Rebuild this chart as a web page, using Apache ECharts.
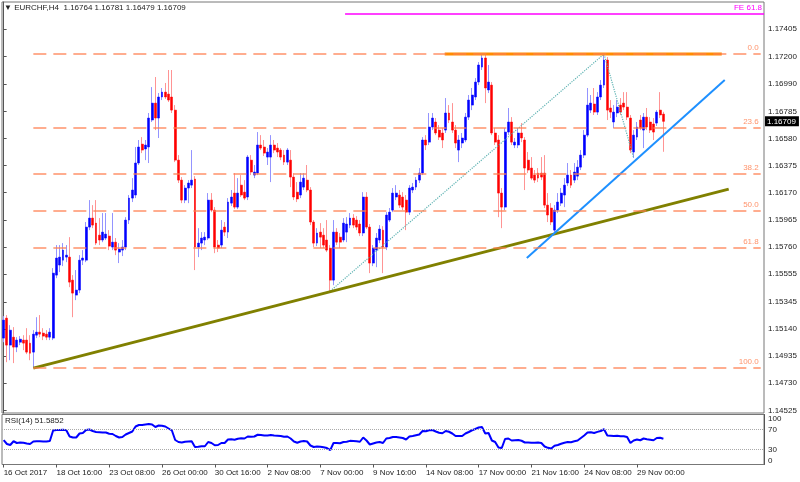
<!DOCTYPE html>
<html><head><meta charset="utf-8">
<script src="https://cdn.jsdelivr.net/npm/echarts@6/dist/echarts.min.js"></script>
<style>html,body{margin:0;padding:0;background:#fff}#c{width:800px;height:482px}</style>
</head><body><div id="c"></div>
<script>
const titleText = '\u25BC EURCHF,H4  1.16764 1.16781 1.16479 1.16709';
const rsiTitle = 'RSI(14) 51.5852';
const tickLabels = ['16 Oct 2017','18 Oct 16:00','23 Oct 08:00','26 Oct 00:00','30 Oct 16:00','2 Nov 08:00','7 Nov 00:00','9 Nov 16:00','14 Nov 08:00','17 Nov 00:00','21 Nov 16:00','24 Nov 08:00','29 Nov 00:00'];
const barsPerLabel = 16;
const totalSlots = 231;
const priceTicks = [1.17405,1.17200,1.16990,1.16785,1.16580,1.16375,1.16170,1.15965,1.15760,1.15555,1.15345,1.15140,1.14935,1.14730,1.14525];
const priceMin = 1.14505, priceMax = 1.17611;
const rsiTicks = [0,30,70,100];
const rsiLevels = [30,70];
const lastPrice = 1.16709;
// [open, close, low, high]
const ohlc = [
[1.15071,1.15207,1.15040,1.15237],[1.15222,1.15018,1.14889,1.15245],[1.15018,1.15131,1.14904,1.15169],[1.15078,1.15003,1.14882,1.15154],
[1.15003,1.15056,1.14965,1.15078],[1.15040,1.15063,1.15018,1.15086],[1.15056,1.15033,1.14980,1.15093],[1.15056,1.14965,1.14950,1.15146],
[1.15033,1.14957,1.14904,1.15093],[1.14965,1.15101,1.14844,1.15131],[1.15093,1.15116,1.15071,1.15229],[1.15116,1.15101,1.15078,1.15245],
[1.15109,1.15086,1.15056,1.15146],[1.15101,1.15078,1.15056,1.15131],[1.15078,1.15116,1.15056,1.15146],[1.15071,1.15562,1.15056,1.15600],
[1.15547,1.15676,1.15524,1.15774],[1.15623,1.15683,1.15570,1.15774],[1.15660,1.15736,1.15615,1.15789],[1.15683,1.15698,1.15645,1.15774],
[1.15683,1.15494,1.15456,1.15834],[1.15509,1.15411,1.15229,1.15547],[1.15396,1.15434,1.15358,1.15585],[1.15434,1.15660,1.15411,1.15698],
[1.15660,1.15676,1.15623,1.15736],[1.15660,1.15910,1.15645,1.15948],[1.15910,1.15978,1.15887,1.16114],[1.15978,1.15925,1.15902,1.16076],
[1.15940,1.15789,1.15774,1.16114],[1.15849,1.15812,1.15774,1.15978],[1.15812,1.15872,1.15796,1.16016],[1.15827,1.15857,1.15812,1.16016],
[1.15842,1.15766,1.15736,1.15887],[1.15759,1.15796,1.15736,1.16016],[1.15796,1.15736,1.15698,1.15827],[1.15721,1.15744,1.15638,1.15789],
[1.15736,1.15759,1.15691,1.15812],[1.15759,1.15963,1.15736,1.15985],[1.15963,1.16129,1.15933,1.16152],[1.16129,1.16190,1.16099,1.16280],
[1.16152,1.16394,1.16129,1.16515],[1.16394,1.16515,1.16379,1.16568],[1.16537,1.16492,1.16469,1.16590],[1.16500,1.16530,1.16416,1.16568],
[1.16515,1.16734,1.16394,1.16772],[1.16719,1.16847,1.16704,1.16968],[1.16847,1.16734,1.16643,1.17044],[1.16734,1.16893,1.16583,1.16923],
[1.16893,1.16930,1.16870,1.16961],[1.16930,1.16893,1.16878,1.16999],[1.16915,1.16870,1.16855,1.17097],[1.16893,1.16794,1.16772,1.17097],
[1.16794,1.16416,1.16401,1.16832],[1.16416,1.16265,1.16243,1.16454],[1.16265,1.16114,1.16091,1.16288],[1.16114,1.16205,1.16091,1.16227],
[1.16205,1.16243,1.16091,1.16265],[1.16227,1.16265,1.16205,1.16492],[1.16273,1.15759,1.15585,1.16295],[1.15759,1.15789,1.15683,1.15902],
[1.15789,1.15827,1.15736,1.15872],[1.15812,1.15834,1.15774,1.15872],[1.15827,1.16114,1.15812,1.16167],[1.16114,1.16038,1.16023,1.16167],
[1.16038,1.15759,1.15713,1.16061],[1.15774,1.15751,1.15721,1.15812],[1.15774,1.15887,1.15751,1.15963],[1.15910,1.15872,1.15842,1.15948],
[1.15872,1.16099,1.15827,1.16129],[1.16091,1.16137,1.16069,1.16190],[1.16167,1.16061,1.16046,1.16318],[1.16061,1.16167,1.16046,1.16280],
[1.16227,1.16152,1.16137,1.16303],[1.16174,1.16129,1.16114,1.16265],[1.16137,1.16439,1.16114,1.16454],[1.16416,1.16326,1.16303,1.16454],
[1.16303,1.16326,1.16280,1.16379],[1.16318,1.16530,1.16303,1.16628],[1.16530,1.16507,1.16492,1.16605],[1.16515,1.16469,1.16447,1.16568],
[1.16439,1.16477,1.16379,1.16507],[1.16439,1.16530,1.16250,1.16605],[1.16530,1.16492,1.16469,1.16568],[1.16507,1.16477,1.16439,1.16545],
[1.16492,1.16439,1.16416,1.16507],[1.16454,1.16401,1.16379,1.16492],[1.16401,1.16492,1.16379,1.16507],[1.16416,1.16288,1.16212,1.16492],
[1.16288,1.16137,1.16114,1.16318],[1.16174,1.16122,1.16099,1.16250],[1.16152,1.16250,1.16129,1.16318],[1.16212,1.16280,1.16190,1.16318],
[1.16265,1.16190,1.16174,1.16379],[1.16190,1.15948,1.15925,1.16212],[1.15948,1.15789,1.15759,1.15963],[1.15789,1.15865,1.15766,1.15902],
[1.15872,1.15834,1.15751,1.15940],[1.15849,1.15774,1.15751,1.15902],[1.15812,1.15736,1.15721,1.15963],[1.15751,1.15509,1.15426,1.15774],
[1.15509,1.15872,1.15471,1.15963],[1.15872,1.15796,1.15774,1.15902],[1.15834,1.15796,1.15751,1.15865],[1.15812,1.15940,1.15796,1.15978],
[1.15872,1.15933,1.15796,1.15985],[1.15925,1.15978,1.15902,1.16016],[1.15978,1.15925,1.15902,1.16008],[1.15963,1.15910,1.15887,1.15993],
[1.15933,1.15865,1.15842,1.15963],[1.15865,1.16137,1.15842,1.16174],[1.16137,1.15910,1.15895,1.16174],[1.15910,1.15638,1.15562,1.15933],
[1.15638,1.15751,1.15615,1.15774],[1.15736,1.15827,1.15607,1.15865],[1.15812,1.15895,1.15789,1.15925],[1.15887,1.15759,1.15562,1.15917],
[1.15759,1.16001,1.15736,1.16023],[1.15963,1.16023,1.15948,1.16054],[1.16038,1.16167,1.16023,1.16205],[1.16137,1.16167,1.16114,1.16227],
[1.16152,1.16076,1.16054,1.16190],[1.16137,1.16061,1.16038,1.16174],[1.16114,1.16023,1.15887,1.16152],[1.16023,1.16205,1.16001,1.16227],
[1.16190,1.16212,1.16167,1.16243],[1.16212,1.16265,1.16190,1.16288],[1.16265,1.16318,1.16243,1.16356],[1.16318,1.16568,1.16303,1.16590],
[1.16568,1.16530,1.16492,1.16605],[1.16552,1.16666,1.16530,1.16772],[1.16666,1.16734,1.16643,1.16772],[1.16704,1.16621,1.16605,1.16734],
[1.16643,1.16590,1.16568,1.16681],[1.16621,1.16568,1.16507,1.16658],[1.16643,1.16772,1.16621,1.16885],[1.16772,1.16719,1.16696,1.16832],
[1.16704,1.16643,1.16621,1.16847],[1.16643,1.16545,1.16507,1.16681],[1.16492,1.16568,1.16401,1.16605],[1.16545,1.16583,1.16507,1.16621],
[1.16568,1.16741,1.16552,1.16772],[1.16741,1.16870,1.16719,1.16908],[1.16832,1.16908,1.16794,1.16961],[1.16893,1.17006,1.16870,1.17036],
[1.17006,1.17135,1.16983,1.17157],[1.17119,1.17188,1.17097,1.17218],[1.17188,1.16961,1.16847,1.17210],[1.16946,1.17006,1.16923,1.17135],
[1.16983,1.16621,1.16605,1.17006],[1.16621,1.16552,1.16530,1.16658],[1.16568,1.16167,1.15985,1.16605],[1.16167,1.16061,1.15902,1.16205],
[1.16061,1.16628,1.16038,1.16658],[1.16628,1.16704,1.16605,1.16810],[1.16704,1.16552,1.16530,1.16741],[1.16530,1.16552,1.16507,1.16583],
[1.16530,1.16621,1.16507,1.16658],[1.16621,1.16583,1.16552,1.16696],[1.16568,1.16356,1.16190,1.16590],[1.16416,1.16341,1.16318,1.16477],
[1.16356,1.16280,1.16265,1.16439],[1.16303,1.16265,1.16243,1.16341],[1.16318,1.16280,1.16250,1.16356],[1.16318,1.16288,1.16265,1.16439],
[1.16318,1.16076,1.16054,1.16454],[1.16076,1.16001,1.15948,1.16167],[1.16054,1.15948,1.15925,1.16091],[1.15887,1.16038,1.15865,1.16076],
[1.16038,1.16099,1.16016,1.16167],[1.16091,1.16167,1.16069,1.16205],[1.16152,1.16227,1.16061,1.16280],[1.16243,1.16303,1.16220,1.16394],
[1.16303,1.16227,1.16205,1.16341],[1.16265,1.16326,1.16243,1.16394],[1.16295,1.16363,1.16265,1.16416],[1.16363,1.16454,1.16341,1.16492],
[1.16454,1.16605,1.16432,1.16643],[1.16605,1.16832,1.16590,1.16961],[1.16794,1.16847,1.16772,1.16908],[1.16840,1.16779,1.16757,1.16961],
[1.16779,1.16893,1.16757,1.16930],[1.16893,1.16983,1.16870,1.17021],[1.16983,1.17172,1.16961,1.17218],[1.17172,1.16794,1.16719,1.17195],
[1.16810,1.16779,1.16734,1.16870],[1.16704,1.16779,1.16658,1.16832],[1.16772,1.16817,1.16741,1.16870],[1.16832,1.16779,1.16757,1.16885],
[1.16847,1.16817,1.16794,1.16930],[1.16817,1.16741,1.16719,1.16930],[1.16734,1.16492,1.16469,1.16757],[1.16477,1.16605,1.16432,1.16643],
[1.16590,1.16666,1.16568,1.16704],[1.16719,1.16658,1.16643,1.16757],[1.16643,1.16741,1.16507,1.16772],[1.16741,1.16666,1.16643,1.16810],
[1.16704,1.16643,1.16621,1.16741],[1.16689,1.16628,1.16568,1.16734],[1.16696,1.16779,1.16674,1.16794],[1.16794,1.16757,1.16734,1.16930],
[1.16764,1.16709,1.16479,1.16781]
];
const rsi = [
48.7,41,39,46.5,43,44,43.5,42,41,46,46.5,46.5,46,46,47,68,69,69,69.5,68.5,
56,54,54,62,63,69,70,67,65,64.5,64,64,61.5,61,57,54,55,60,63,66,
76,79,79,80,81,80,75,78,77.5,76,72,68,49,45,44,45.5,46,46.5,35,35.5,
36.5,36.5,45,43,38.5,39,43,43,50,50.5,49.5,51.5,52.5,52,56,55.5,56,59.5,59,58,
58,59,58,57.5,57,55.5,56,52,46,43.5,46,47,46,38,35,36,35.5,34.5,33,28.7,
43,43,42.5,45,45.5,47.3,47,46.5,45.5,54,48,40,42,44,45,43,52,53,55,55,
54,53,50,56,57,58.5,60,67,66.5,68.5,69,66,63.5,62.5,67,65.5,62,57,57,57,
62,65,68.5,71,74,75,62,63,48,45,34,33,51,52,48,48.5,49,47.5,44,44,
43.5,43.5,44,43,36,33.3,32,37.5,39,41.5,43.5,45,44.5,46.5,48,53,58,64,64.5,63,
65.3,67,70.5,58,57.5,57,57.5,56.5,56.5,55,43,48,50,48.5,52,50.5,49.5,48.5,53,53.5,
51.5852
];
// Fibonacci retracement levels (price) and names
const fiboLevels = [1.17222,1.16662,1.16315,1.16035,1.15754,1.14847];
const fiboNames = ['0.0','23.6','38.2','50.0','61.8','100.0'];
const fiboSpan = [9, 229.5];           // bar index span
const feLevel = 1.17525, feSpan = [103.5, 230.5], feName = 'FE 61.8';
const resistance = [[133.7,1.17218],[217.7,1.17218]];
const oliveLine = [[9,1.14844],[219.8,1.16197]];
const blueLine = [[158.6,1.15676],[218.6,1.17021]];
const feLegs = [[99,1.15426],[182,1.17218],[191,1.16432]];

const FONT = 'Liberation Sans, Arial, sans-serif';
const chart = echarts.init(document.getElementById('c'));
const cats = Array.from({length: totalSlots}, (_, i) => String(i));
const bodies = ohlc.map(([o, c]) => [o, c, Math.min(o, c), Math.max(o, c)]);
const isTick = i => i % barsPerLabel === 0 && i / barsPerLabel < tickLabels.length;
const lab = {fontFamily: FONT, fontSize: 8, color: '#222'};

chart.setOption({
  animation: false,
  backgroundColor: '#fff',
  graphic: [
    {type: 'text', left: 4, top: 4, style: {text: titleText, font: '8px ' + FONT, fill: '#222'}},
    {type: 'text', left: 5, top: 417, style: {text: rsiTitle, font: '8px ' + FONT, fill: '#222'}}
  ],
  grid: [
    {left: 2, right: 36, top: 2, height: 411, show: true, borderColor: '#777', borderWidth: 1},
    {left: 2, right: 36, top: 414.5, height: 50, show: true, borderColor: '#777', borderWidth: 1}
  ],
  xAxis: [
    {type: 'category', gridIndex: 0, data: cats, boundaryGap: true, axisLine: {show: false}, axisTick: {show: false}, axisLabel: {show: false}, splitLine: {show: false}},
    {type: 'category', gridIndex: 1, data: cats, boundaryGap: true, axisLine: {show: false},
      axisTick: {show: true, interval: (i) => isTick(i), alignWithLabel: true, length: 3, lineStyle: {color: '#555'}},
      axisLabel: Object.assign({show: true, interval: (i) => isTick(i), formatter: (v, i) => tickLabels[Math.round(i / barsPerLabel)] || '', align: 'left', margin: 4}, lab),
      splitLine: {show: false}},
    {type: 'value', gridIndex: 0, min: -0.5, max: totalSlots - 0.5, show: false}
  ],
  yAxis: [
    {type: 'value', gridIndex: 0, position: 'right', min: priceMin, max: priceMax,
      axisLine: {show: true, lineStyle: {color: '#555'}},
      axisTick: {show: true, length: 3, customValues: priceTicks, lineStyle: {color: '#555'}},
      axisLabel: Object.assign({customValues: priceTicks, formatter: v => v.toFixed(5), margin: 4}, lab),
      splitLine: {show: false}},
    {type: 'value', gridIndex: 1, position: 'right', min: 0, max: 100,
      axisLine: {show: true, lineStyle: {color: '#555'}},
      axisTick: {show: false},
      axisLabel: Object.assign({customValues: rsiTicks, margin: 4, verticalAlignMinLabel: 'bottom', verticalAlignMaxLabel: 'top'}, lab),
      splitLine: {show: false}}
  ],
  series: [
    {type: 'line', xAxisIndex: 2, yAxisIndex: 0, data: [[fiboSpan[0], fiboLevels[0]], [fiboSpan[1], fiboLevels[0]]], symbol: 'none', silent: true, z: 1,
      lineStyle: {opacity: 0},
      markLine: {symbol: ['none', 'none'], silent: true,
        lineStyle: {color: '#ff7f50', width: 1.6, type: [13, 7], opacity: 0.85},
        label: {show: true, position: 'insideEndTop', formatter: '{b}', color: '#ff7f50', fontSize: 8, fontFamily: FONT, distance: 2},
        data: fiboLevels.map((lv, k) => [{name: fiboNames[k], coord: [fiboSpan[0], lv]}, {coord: [fiboSpan[1], lv]}]).concat([
          [{name: feName, coord: [feSpan[0], feLevel], lineStyle: {color: '#ff00ff', width: 1.5, type: 'solid', opacity: 1}, label: {color: '#ff00ff'}}, {coord: [feSpan[1], feLevel]}]
        ])}},
    {type: 'candlestick', xAxisIndex: 0, yAxisIndex: 0, data: ohlc, barWidth: 1, silent: true, z: 2,
      itemStyle: {color: '#9494ff', color0: '#ff9494', borderColor: '#9494ff', borderColor0: '#ff9494', borderWidth: 1}},
    {type: 'candlestick', xAxisIndex: 0, yAxisIndex: 0, data: bodies, barWidth: 2.4, silent: true, z: 3, clip: false,
      itemStyle: {color: '#0000ff', color0: '#ff0000', borderColor: '#0000ff', borderColor0: '#ff0000', borderWidth: 0.5}},
    {type: 'line', xAxisIndex: 2, yAxisIndex: 0, data: [[totalSlots - 1, lastPrice], [totalSlots - 0.5, lastPrice]], symbol: 'none', silent: true, z: 6, clip: false,
      lineStyle: {color: 'transparent', width: 0},
      endLabel: {show: true, formatter: lastPrice.toFixed(5), backgroundColor: '#000', color: '#fff', padding: [1, 3, 1, 2], distance: 1, fontSize: 8, fontFamily: FONT}},
    {type: 'line', xAxisIndex: 2, yAxisIndex: 0, data: feLegs, symbol: 'none', silent: true, z: 4,
      lineStyle: {color: '#5fb3b3', width: 1.2, type: 'dotted'}},
    {type: 'line', xAxisIndex: 2, yAxisIndex: 0, data: resistance, symbol: 'none', silent: true, z: 4,
      lineStyle: {color: '#ff8c00', width: 3}},
    {type: 'line', xAxisIndex: 2, yAxisIndex: 0, data: oliveLine, symbol: 'none', silent: true, z: 4,
      lineStyle: {color: '#808000', width: 3}},
    {type: 'line', xAxisIndex: 2, yAxisIndex: 0, data: blueLine, symbol: 'none', silent: true, z: 4,
      lineStyle: {color: '#1e90ff', width: 2}},
    {type: 'line', xAxisIndex: 1, yAxisIndex: 1, data: rsi, symbol: 'none', silent: true, z: 3,
      lineStyle: {color: '#0000ff', width: 2},
      markLine: {symbol: ['none', 'none'], silent: true, label: {show: false},
        lineStyle: {color: '#aaa', width: 1, type: 'dotted'},
        data: rsiLevels.map(v => ({yAxis: v}))}}
  ]
});
</script>
</body></html>
